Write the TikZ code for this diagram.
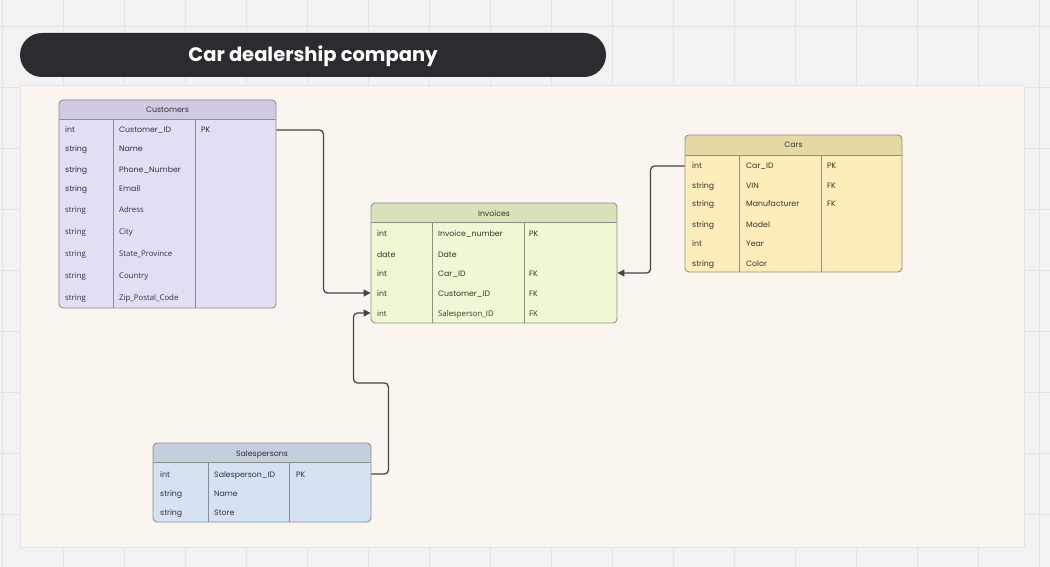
\documentclass[tikz,border=0pt]{standalone}
\usepackage{fontspec}
\setmainfont{Poppins}
\newfontfamily\opsans{Open Sans}
\usetikzlibrary{arrows.meta,positioning}

\definecolor{bg}{HTML}{F2F2F2}
\definecolor{gridl}{HTML}{E3E3E3}
\definecolor{panel}{HTML}{FAF6EF}
\definecolor{panelline}{HTML}{E6E3DD}
\definecolor{titlebg}{HTML}{2B2C30}
\definecolor{tline}{HTML}{8E8E8E}
\definecolor{txt}{HTML}{333333}
\definecolor{lnk}{HTML}{454545}
\definecolor{custhead}{HTML}{D0CAE3}
\definecolor{custbody}{HTML}{E3DEF4}
\definecolor{invhead}{HTML}{D7E3B6}
\definecolor{invbody}{HTML}{EEF8D3}
\definecolor{carhead}{HTML}{E5D9A3}
\definecolor{carbody}{HTML}{FDEEB9}
\definecolor{salhead}{HTML}{C3CFDD}
\definecolor{salbody}{HTML}{D6E1F1}

\begin{document}
\begin{tikzpicture}[x=1pt,y=-1pt,
    tbl/.style={draw=tline,line width=0.9pt,rounded corners=4pt,inner sep=0pt},
    cell/.style={anchor=west,inner sep=0pt,text=txt,font=\fontsize{7.8}{9}\selectfont,
        text height=7.5pt,text depth=1.5pt},
    head/.style={inner sep=0pt,text=txt,font=\fontsize{7.8}{9}\selectfont,text height=7.5pt,text depth=1.5pt},
    title/.style={fill=titlebg,rounded corners=22pt,minimum width=586pt,minimum height=44pt,
        text=white,font=\bfseries\fontsize{19.5}{22}\selectfont,text height=17pt,text depth=4pt},
    link/.style={draw=lnk,line width=1.3pt,rounded corners=4pt,-{Triangle[length=7pt,width=7pt]}}]

	\useasboundingbox (0,0) rectangle (1050,567);
	\fill[bg] (0,0) rectangle (1050,567);
	\foreach \gx in {2,63,...,1050} \draw[gridl,line width=0.8pt] (\gx,0) -- (\gx,567);
	\foreach \gy in {26,87,...,567} \draw[gridl,line width=0.8pt] (0,\gy) -- (1050,\gy);

	\node[title] (ttl) at (313,55) {Car dealership company};
	\draw[fill=panel,draw=panelline,line width=0.8pt] (20,85) rectangle (1024,547);

	% Customers
	\node[tbl,fill=custbody,minimum width=217pt,minimum height=208pt,
	    path picture={\fill[custhead] (path picture bounding box.north west) rectangle ([yshift=-20pt]path picture bounding box.north east);}]
	    (cust) at (167.5,204) {};
	\draw[tline,line width=0.9pt] ([yshift=-20pt]cust.north west) -- ([yshift=-20pt]cust.north east);
	\draw[tline,line width=0.9pt] (113,120) -- (113,308) (195,120) -- (195,308);
	\node[head] (custh) at (167.5,110) {Customers};
	\node[cell] (cust1) at (65,130) {int};    \node[cell] at (119,130) {Customer\_ID}; \node[cell] at (201,130) {PK};
	\node[cell] (cust2) at (65,149) {string}; \node[cell] at (119,149) {Name};
	\node[cell] (cust3) at (65,169) {string}; \node[cell] at (119,169) {Phone\_Number};
	\node[cell] (cust4) at (65,188) {string}; \node[cell] at (119,188) {Email};
	\node[cell,font=\opsans\fontsize{7.8}{9}\selectfont] (cust5) at (65,209) {string}; \node[cell,font=\opsans\fontsize{7.8}{9}\selectfont] at (119,209) {Adress};
	\node[cell,font=\opsans\fontsize{7.8}{9}\selectfont] (cust6) at (65,231) {string}; \node[cell,font=\opsans\fontsize{7.8}{9}\selectfont] at (119,231) {City};
	\node[cell,font=\opsans\fontsize{7.8}{9}\selectfont] (cust7) at (65,253) {string}; \node[cell,font=\opsans\fontsize{7.8}{9}\selectfont] at (119,253) {State\_Province};
	\node[cell,font=\opsans\fontsize{7.8}{9}\selectfont] (cust8) at (65,275) {string}; \node[cell,font=\opsans\fontsize{7.8}{9}\selectfont] at (119,275) {Country};
	\node[cell,font=\opsans\fontsize{7.8}{9}\selectfont] (cust9) at (65,297) {string}; \node[cell,font=\opsans\fontsize{7.8}{9}\selectfont] at (119,297) {Zip\_Postal\_Code};

	% Invoices
	\node[tbl,fill=invbody,minimum width=246pt,minimum height=120pt,
	    path picture={\fill[invhead] (path picture bounding box.north west) rectangle ([yshift=-20pt]path picture bounding box.north east);}]
	    (inv) at (494,263) {};
	\draw[tline,line width=0.9pt] ([yshift=-20pt]inv.north west) -- ([yshift=-20pt]inv.north east);
	\draw[tline,line width=0.9pt] (432,223) -- (432,323) (524,223) -- (524,323);
	\node[head] (invh) at (494,213) {Invoices};
	\node[cell] (inv1) at (377,233) {int};  \node[cell] at (438,233) {Invoice\_number}; \node[cell] at (529,233) {PK};
	\node[cell] (inv2) at (377,254) {date}; \node[cell] at (438,254) {Date};
	\node[cell] (inv3) at (377,273) {int};  \node[cell] at (438,273) {Car\_ID};         \node[cell] at (529,273) {FK};
	\node[cell] (inv4) at (377,293) {int};  \node[cell] at (438,293) {Customer\_ID};    \node[cell] at (529,293) {FK};
	\node[cell,font=\opsans\fontsize{7.8}{9}\selectfont] (inv5) at (377,313) {int};
	\node[cell,font=\opsans\fontsize{7.8}{9}\selectfont] at (438,313) {Salesperson\_ID};
	\node[cell,font=\opsans\fontsize{7.8}{9}\selectfont] at (529,313) {FK};

	% Cars
	\node[tbl,fill=carbody,minimum width=217pt,minimum height=137pt,
	    path picture={\fill[carhead] (path picture bounding box.north west) rectangle ([yshift=-21pt]path picture bounding box.north east);}]
	    (cars) at (793.5,203.5) {};
	\draw[tline,line width=0.9pt] ([yshift=-21pt]cars.north west) -- ([yshift=-21pt]cars.north east);
	\draw[tline,line width=0.9pt] (739,156) -- (739,272) (821,156) -- (821,272);
	\node[head] (carsh) at (793.5,145) {Cars};
	\node[cell] (cars1) at (692,166) {int};    \node[cell] at (746,166) {Car\_ID};       \node[cell] at (827,166) {PK};
	\node[cell] (cars2) at (692,186) {string}; \node[cell] at (746,186) {VIN};          \node[cell] at (827,186) {FK};
	\node[cell] (cars3) at (692,204) {string}; \node[cell] at (746,204) {Manufacturer}; \node[cell] at (827,204) {FK};
	\node[cell] (cars4) at (692,224) {string}; \node[cell] at (746,224) {Model};
	\node[cell] (cars5) at (692,243) {int};    \node[cell] at (746,243) {Year};
	\node[cell] (cars6) at (692,263) {string}; \node[cell] at (746,263) {Color};

	% Salespersons
	\node[tbl,fill=salbody,minimum width=218pt,minimum height=79pt,
	    path picture={\fill[salhead] (path picture bounding box.north west) rectangle ([yshift=-20pt]path picture bounding box.north east);}]
	    (sales) at (262,482.5) {};
	\draw[tline,line width=0.9pt] ([yshift=-20pt]sales.north west) -- ([yshift=-20pt]sales.north east);
	\draw[tline,line width=0.9pt] (208,463) -- (208,522) (289,463) -- (289,522);
	\node[head] (salesh) at (262,453) {Salespersons};
	\node[cell] (sales1) at (160,474) {int};    \node[cell] at (214,474) {Salesperson\_ID}; \node[cell] at (296,474) {PK};
	\node[cell] (sales2) at (160,493) {string}; \node[cell] at (214,493) {Name};
	\node[cell] (sales3) at (160,512) {string}; \node[cell] at (214,512) {Store};

	% links
	\draw[link] (cust.east |- cust1) -- ++(47,0) |- (inv.west |- inv4);
	\draw[link] (cars.west |- cars1) -- ++(-34,0) |- (inv.east |- inv3);
	\draw[link] (sales.east |- sales1) -- ++(17,0) -- ++(0,-91) -- ++(-35,0) |- (inv.west |- inv5);

\end{tikzpicture}
\end{document}
